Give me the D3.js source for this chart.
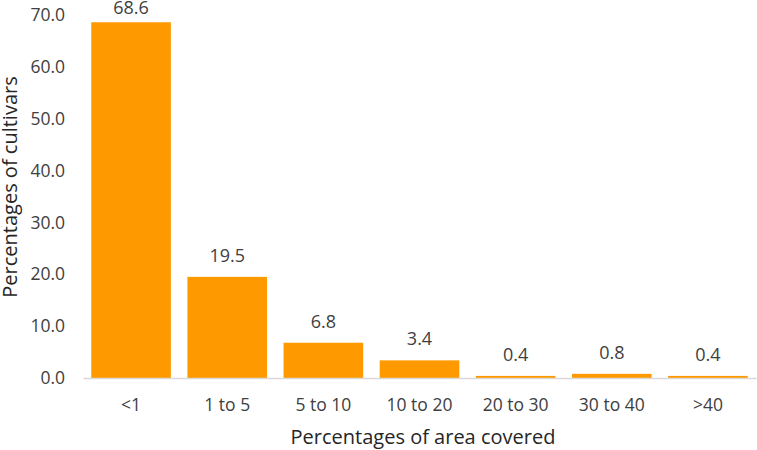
<!DOCTYPE html>
<html>
<head>
<meta charset="utf-8">
<script src="https://cdn.jsdelivr.net/npm/d3@7/dist/d3.min.js"></script>
<style>
  body { margin: 0; background: #fff; }
  svg text { font-family: "Open Sans", sans-serif; }
</style>
</head>
<body>
<svg id="chart" width="757" height="450"></svg>
<script>
const categories = ["<1", "1 to 5", "5 to 10", "10 to 20", "20 to 30", "30 to 40", ">40"];
const values = [68.6, 19.5, 6.8, 3.4, 0.4, 0.8, 0.4];
const yTicks = [0, 10, 20, 30, 40, 50, 60, 70];

const svg = d3.select("#chart");
const plot = { left: 83, right: 756, top: 15, bottom: 378 };

const x = d3.scaleBand()
    .domain(categories)
    .range([plot.left, plot.right])
    .paddingInner(0.172)
    .paddingOuter(0.086);

const y = d3.scaleLinear()
    .domain([0, 70])
    .range([plot.bottom, plot.top]);

// bars
svg.append("g")
  .selectAll("rect")
  .data(values)
  .join("rect")
    .attr("x", (d, i) => x(categories[i]))
    .attr("y", d => y(d))
    .attr("width", x.bandwidth())
    .attr("height", d => plot.bottom - y(d))
    .attr("fill", "#ff9900");

// value labels
svg.append("g")
  .selectAll("text")
  .data(values)
  .join("text")
    .attr("x", (d, i) => x(categories[i]) + x.bandwidth() / 2)
    .attr("y", d => Math.max(y(d) - 15, 14))
    .attr("text-anchor", "middle")
    .attr("fill", "#404040")
    .style("font-size", "18px")
    .text(d => d.toFixed(1));

// y axis (labels only)
const yAxis = svg.append("g")
    .attr("transform", `translate(${plot.left},0)`)
    .call(d3.axisLeft(y).tickValues(yTicks).tickFormat(d3.format(".1f")).tickSize(0).tickPadding(18));
yAxis.select(".domain").remove();
yAxis.selectAll("text")
    .attr("fill", "#404040")
    .style("font-size", "17.5px");

// x axis
const xAxis = svg.append("g")
    .attr("transform", `translate(0,${plot.bottom})`)
    .call(d3.axisBottom(x).tickSize(0).tickPadding(21));
xAxis.select(".domain")
    .attr("stroke", "#d9d9d9")
    .attr("stroke-width", 1.5);
xAxis.selectAll("text")
    .attr("fill", "#404040")
    .style("font-size", "17.5px");

// axis titles
svg.append("text")
    .attr("x", 423)
    .attr("y", 444)
    .attr("text-anchor", "middle")
    .attr("fill", "#262626")
    .style("font-size", "20px")
    .text("Percentages of area covered");

svg.append("text")
    .attr("transform", "translate(17,187) rotate(-90)")
    .attr("text-anchor", "middle")
    .attr("fill", "#262626")
    .style("font-size", "20px")
    .text("Percentages of cultivars");
</script>
</body>
</html>
